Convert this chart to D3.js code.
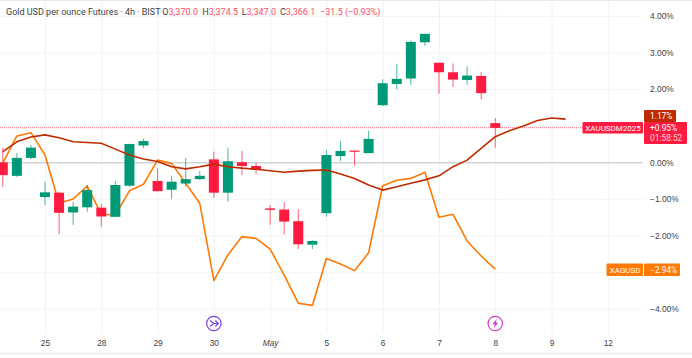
<!DOCTYPE html>
<html lang="en">
<head>
    <meta charset="UTF-8">
    <title>Gold USD per ounce Futures</title>
    <script src="https://d3js.org/d3.v7.min.js"></script>
    <style>
        html, body { margin: 0; padding: 0; background: #fff; }
        svg { display: block; font-family: Roboto, Arial, sans-serif; }
        .domain { display: none; }
    </style>
</head>
<body>
    <svg id="chart" width="692" height="358"></svg>
    <script>
        // candle values in percent, first bar is the one cut by the left edge
        const opens = [0.00,-0.37,0.12,-0.95,-0.83,-1.37,-1.23,-1.24,-1.49,-0.64,0.46,-0.51,-0.75,-0.58,-0.46,0.08,-0.83,0.00,-0.10,-1.26,-1.29,-1.61,-2.25,-1.39,0.17,0.32,0.25,1.56,2.14,2.29,3.28,2.72,2.46,2.25,2.36,1.07];
        const highs = [0.39,0.25,0.47,-0.53,-0.80,-1.08,-0.62,-1.14,-0.51,0.51,0.64,-0.17,-0.37,0.12,-0.24,0.29,0.40,0.31,-0.01,-1.17,-1.09,-1.28,-2.13,0.34,0.58,0.32,0.86,2.27,2.69,3.33,3.51,2.72,2.70,2.62,2.47,1.21];
        const lows = [-0.67,-0.40,0.09,-1.17,-1.96,-1.71,-1.35,-1.76,-1.49,-0.67,0.39,-0.79,-1.00,-0.67,-0.48,-0.97,-1.08,-0.35,-0.32,-1.71,-1.97,-2.37,-2.37,-1.49,0.04,-0.09,0.25,1.54,2.00,2.11,3.18,1.87,2.06,2.12,1.72,0.40];
        const closes = [-0.35,0.12,0.40,-0.82,-1.38,-1.21,-0.76,-1.48,-0.62,0.50,0.58,-0.79,-0.53,-0.46,-0.37,-0.83,0.03,-0.10,-0.21,-1.30,-1.62,-2.24,-2.15,0.20,0.31,0.29,0.64,2.16,2.28,3.29,3.51,2.46,2.26,2.37,1.89,0.94];

        const silver = [-0.02,0.72,0.81,0.20,-1.12,-1.00,-0.65,-1.42,-1.44,-0.78,-0.60,0.06,-0.03,-0.57,-1.12,-3.23,-2.53,-2.03,-2.08,-2.37,-3.08,-3.85,-3.91,-2.63,-2.78,-2.96,-2.47,-0.64,-0.49,-0.44,-0.27,-1.50,-1.42,-2.15,-2.56,-2.92];
        const goldM = [0.29,0.56,0.69,0.75,0.67,0.56,0.54,0.52,0.36,0.20,0.09,0.02,-0.12,-0.18,-0.12,-0.05,-0.12,-0.16,-0.19,-0.23,-0.27,-0.24,-0.22,-0.21,-0.32,-0.44,-0.62,-0.76,-0.67,-0.57,-0.48,-0.37,-0.12,0.06,0.38,0.70,0.86,0.99,1.14,1.21,1.18];

        const dayTicks = [3,7,11,15,19,23,27,31,35,39,43];
        const dayLabels = ["25","28","29","30","May","5","6","7","8","9","12"];
        const pctTicks = [4,3,2,1,0,-1,-2,-3,-4];
        const hiddenPct = [1, -3]; // these two labels sit behind the price tags
        const lastClose = 0.95;

        const up = "#009977", down = "#ff1a40", goldColor = "#bf2b00", silverColor = "#ff7a05";
        const width = 692, height = 358, plotRight = 643, axisBottom = 333;
        const labelSize = 8.4;

        const svg = d3.select("#chart");
        const x = d3.scaleLinear().domain([0, 40]).range([2.8, 565.6]);
        const y = d3.scaleLinear().domain([-4, 4]).range([308.7, 15.9]);

        // chart frame
        svg.append("line").attr("x1", 0).attr("x2", width).attr("y1", 0.5).attr("y2", 0.5).attr("stroke", "#e6e8ee");
        svg.append("line").attr("x1", 0).attr("x2", width).attr("y1", 353.5).attr("y2", 353.5).attr("stroke", "#eeeff2").attr("stroke-width", 2);

        // axes double as the grid
        const xAxis = svg.append("g")
            .attr("transform", `translate(0,${axisBottom})`)
            .call(d3.axisBottom(x).tickValues(dayTicks).tickSize(-axisBottom).tickPadding(7)
                .tickFormat((d, i) => dayLabels[i]));
        xAxis.selectAll("line").attr("stroke", "#f1f2f4");
        xAxis.selectAll("text").attr("fill", "#3d3f47").attr("font-size", labelSize)
            .attr("font-style", d => d === 19 ? "italic" : null);

        const yAxis = svg.append("g")
            .attr("transform", `translate(${plotRight},0)`)
            .call(d3.axisRight(y).tickValues(pctTicks).tickSize(-plotRight).tickPadding(7)
                .tickFormat(d => hiddenPct.includes(d) ? "" : (d < 0 ? "\u2212" : "") + Math.abs(d).toFixed(2) + "%"));
        yAxis.selectAll("line").attr("stroke", d => d === 0 ? "#bdbfc4" : "#f3f4f6");
        yAxis.selectAll("text").attr("fill", "#3d3f47").attr("font-size", labelSize);

        // last price dotted line
        svg.append("line")
            .attr("x1", 0).attr("x2", plotRight)
            .attr("y1", y(lastClose)).attr("y2", y(lastClose))
            .attr("stroke", "#ff8a9c").attr("stroke-width", 1.2).attr("stroke-dasharray", "1 1");

        const line = d3.line().x((d, i) => x(i)).y(d => y(d));

        svg.append("path").datum(silver)
            .attr("d", line).attr("fill", "none")
            .attr("stroke", silverColor).attr("stroke-width", 1.6).attr("stroke-linejoin", "round");

        // candles
        const candles = svg.selectAll(".candle").data(opens).enter().append("g").attr("class", "candle");
        candles.append("line")
            .attr("x1", (d, i) => x(i)).attr("x2", (d, i) => x(i))
            .attr("y1", (d, i) => y(highs[i])).attr("y2", (d, i) => y(lows[i]))
            .attr("stroke", (d, i) => closes[i] >= d ? up : down)
            .attr("stroke-opacity", 0.7);
        candles.append("rect")
            .attr("x", (d, i) => x(i) - 5)
            .attr("width", 10)
            .attr("y", (d, i) => y(Math.max(d, closes[i])))
            .attr("height", (d, i) => Math.max(1.2, Math.abs(y(d) - y(closes[i]))))
            .attr("fill", (d, i) => closes[i] >= d ? up : down);

        svg.append("path").datum(goldM)
            .attr("d", line).attr("fill", "none")
            .attr("stroke", goldColor).attr("stroke-width", 1.6).attr("stroke-linejoin", "round");

        // header
        const headerSize = 9;
        svg.append("text").attr("x", 6).attr("y", 15).attr("font-size", headerSize).attr("fill", "#3d3f47")
            .text("Gold USD per ounce Futures \u00b7 4h \u00b7 BIST");
        [["O", "3,370.0", 162.3], ["H", "3,374.5", 202.3], ["L", "3,347.0", 241.7], ["C", "3,366.1", 280]].forEach(d => {
            const t = svg.append("text").attr("x", d[2]).attr("y", 15).attr("font-size", headerSize).attr("fill", "#3d3f47");
            t.append("tspan").text(d[0]);
            t.append("tspan").attr("fill", "#ff4d5e").text(d[1]);
        });
        svg.append("text").attr("x", 320).attr("y", 15).attr("font-size", headerSize).attr("fill", "#ff4d5e")
            .text("\u221231.5 (\u22120.93%)");

        // price tags on the right
        function tag(x0, y0, w, h, fill, label, tx, size) {
            svg.append("rect").attr("x", x0).attr("y", y0).attr("width", w).attr("height", h).attr("fill", fill).attr("rx", 1);
            if (label) svg.append("text").attr("x", tx).attr("y", y0 + h / 2 + 3)
                .attr("font-size", size || labelSize).attr("fill", "#fff").text(label);
        }
        tag(644, 110, 32, 12, goldColor, "1.17%", 650);
        tag(644, 122, 43, 22, down, null);
        svg.append("text").attr("x", 650).attr("y", 131).attr("font-size", labelSize).attr("fill", "#fff").text("+0.95%");
        svg.append("text").attr("x", 650).attr("y", 141).attr("font-size", labelSize).attr("fill", "#ffd2d8").text("01:58:52");
        tag(582.5, 122, 60.5, 11.5, down, "XAUUSDM2025", 585.3, 8);
        tag(606.5, 263.5, 36.5, 12.5, silverColor, "XAGUSD", 609.7, 8);
        tag(644, 263.5, 36, 12.5, silverColor, "\u22122.94%", 650);

        // event markers on the time axis
        const marker = svg.append("g").attr("transform", `translate(${x(15)},323.5)`)
            .attr("fill", "none").attr("stroke", "#7b3fe4").attr("stroke-width", 1.2);
        marker.append("circle").attr("r", 7.2);
        marker.append("path").attr("d", "M-4,-3 L0,0 L-4,3 M-1,0 H4.5 M1.5,-3 L4.5,0 L1.5,3");

        const bolt = svg.append("g").attr("transform", `translate(${x(35)},323.5)`)
            .attr("fill", "none").attr("stroke", "#d13fc4").attr("stroke-width", 1.2);
        bolt.append("circle").attr("r", 7.2);
        bolt.append("path").attr("fill", "#d13fc4").attr("stroke", "none")
            .attr("d", "M1.5,-4.5 L-3,0.8 H-0.5 L-1.5,4.5 L3,-0.8 H0.5 Z");
    </script>
</body>
</html>
